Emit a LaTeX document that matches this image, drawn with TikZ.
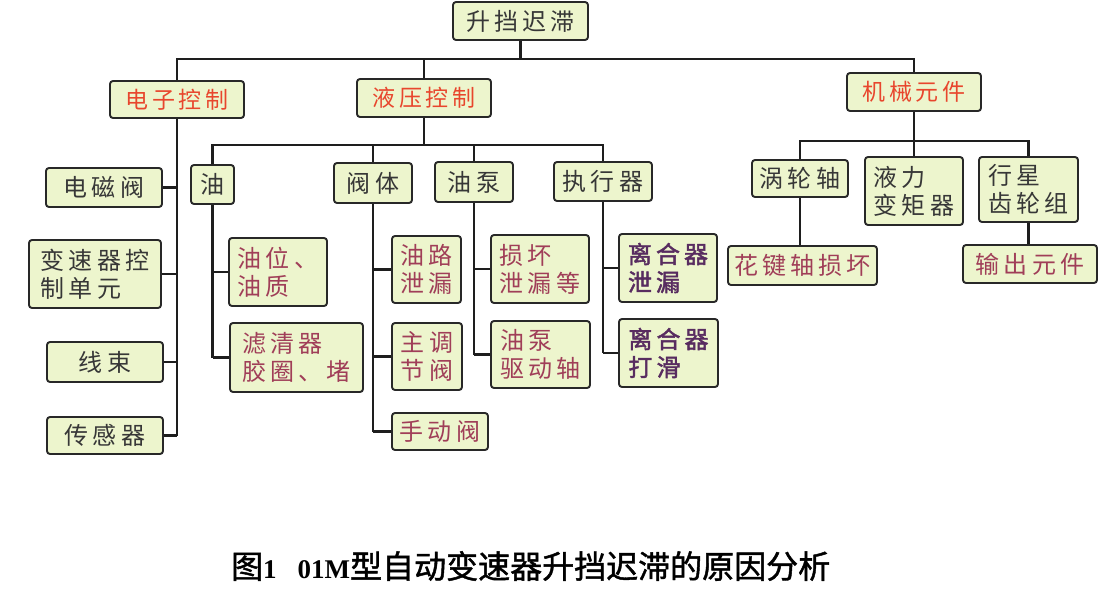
\documentclass[tikz,border=0pt]{standalone}
\usepackage{fontspec}
\newfontfamily\cjk[LetterSpace=17]{Noto Sans CJK SC}
\newfontfamily\cjkbold[LetterSpace=17,FakeBold=1.8]{Noto Sans CJK SC}
\newfontfamily\cjkcap[FakeBold=1.4]{Noto Sans CJK SC}
\newfontfamily\tnrbold{Liberation Serif Bold}
\definecolor{boxfill}{RGB}{237,245,205}
\definecolor{boxline}{RGB}{40,40,40}
\definecolor{wireblack}{RGB}{30,30,30}
\definecolor{darktext}{RGB}{55,55,55}
\definecolor{redtext}{RGB}{232,70,45}
\definecolor{mauvetext}{RGB}{160,62,88}
\definecolor{purpletext}{RGB}{88,44,96}
\tikzset{
  box/.style={draw=boxline, line width=1.9pt, rounded corners=3pt, fill=boxfill,
    inner sep=0pt, align=left, text=darktext,
    font=\cjk\fontsize{24}{28}\selectfont},
  lvlone/.style={box, text=redtext, font=\cjk\fontsize{23}{28}\selectfont},
  lvlthree/.style={box, text=mauvetext},
  lvlclutch/.style={box, text=purpletext, font=\cjkbold\fontsize{24}{28}\selectfont},
  wire/.style={line width=2.2pt, draw=wireblack},
}
\begin{document}
\begin{tikzpicture}[x=1pt,y=-1pt]
\fill[white] (0,0) rectangle (1111,603);
\useasboundingbox (0,0) rectangle (1111,603);

% root and level one
\node[box, minimum width=135pt, minimum height=38pt] (root) at (520.5,21) {升挡迟滞};
\node[lvlone, minimum width=134pt, minimum height=37pt] (elec) at (177,99.5) {电子控制};
\node[lvlone, minimum width=134pt, minimum height=38pt] (hyd) at (424,98) {液压控制};
\node[lvlone, minimum width=134pt, minimum height=38pt] (mech) at (914,92) {机械元件};

% electronic branch
\node[box, minimum width=116pt, minimum height=39pt] (sol) at (104,187.5) {电磁阀};
\node[box, minimum width=132pt, minimum height=68pt] (tcu) at (95,274) {变速器控\\制单元};
\node[box, minimum width=116pt, minimum height=40pt] (harn) at (105,362) {线束};
\node[box, minimum width=116pt, minimum height=37pt] (sens) at (105,435.5) {传感器};

% hydraulic level two
\node[box, minimum width=43pt, minimum height=39pt] (oil) at (212.5,184.5) {油};
\node[box, minimum width=78pt, minimum height=40pt] (valve) at (373,183) {阀体};
\node[box, minimum width=78pt, minimum height=40pt] (pump) at (474,182) {油泵};
\node[box, minimum width=98pt, minimum height=39pt] (act) at (603,181.5) {执行器};

% hydraulic level three
\node[lvlthree, minimum width=98pt, minimum height=68pt] (oilq) at (278,272) {油位、\\油质};
\node[lvlthree, minimum width=133pt, minimum height=69pt] (filt) at (296.5,357.5) {滤清器\\胶圈、堵};
\node[lvlthree, minimum width=69pt, minimum height=67pt] (leak) at (426.5,269.5) {油路\\泄漏};
\node[lvlthree, minimum width=70pt, minimum height=67pt] (mainv) at (427,356.5) {主调\\节阀};
\node[lvlthree, minimum width=96pt, minimum height=37pt] (manv) at (440,431.5) {手动阀};
\node[lvlthree, minimum width=98pt, minimum height=68pt] (dmg) at (540,269) {损坏\\泄漏等};
\node[lvlthree, minimum width=99pt, minimum height=67pt] (shaft) at (540.5,354.5) {油泵\\驱动轴};
\node[lvlclutch, minimum width=98pt, minimum height=68pt] (cleak) at (668,268) {离合器\\泄漏};
\node[lvlclutch, minimum width=99pt, minimum height=68pt] (cslip) at (668.5,353) {离合器\\打滑};

% mechanical branch
\node[box, minimum width=96pt, minimum height=37pt] (turb) at (800,178.5) {涡轮轴};
\node[box, minimum width=98pt, minimum height=68pt] (conv) at (914,191) {液力\\变矩器};
\node[box, minimum width=99pt, minimum height=65pt] (plan) at (1028.5,189.5) {行星\\齿轮组};
\node[lvlthree, minimum width=149pt, minimum height=39pt] (spline) at (802.5,265.5) {花键轴损坏};
\node[lvlthree, minimum width=134pt, minimum height=38pt] (outp) at (1030,264) {输出元件};

% buses
\coordinate (topbus) at (0,59);
\coordinate (hbus) at (0,145);
\coordinate (mbus) at (0,141);

\draw[wire] (elec.north) -- (elec.north |- topbus) -- (mech.north |- topbus) -- (mech.north);
\draw[wire] (root.south) -- (root.south |- topbus);
\draw[wire] (hyd.north) -- (hyd.north |- topbus);

\draw[wire] (oil.north) -- (oil.north |- hbus) -- (act.north |- hbus) -- (act.north);
\draw[wire] (hyd.south) -- (hyd.south |- hbus);
\draw[wire] (valve.north) -- (valve.north |- hbus);
\draw[wire] (pump.north) -- (pump.north |- hbus);

\draw[wire] (turb.north) -- (turb.north |- mbus) -- (plan.north |- mbus) -- (plan.north);
\draw[wire] (mech.south) -- (mech.south |- mbus);
\draw[wire] (conv.north) -- (conv.north |- mbus);

% electronic trunk
\draw[wire] (elec.south) -- (elec.south |- sens.east);
\foreach \c in {sol,tcu,harn,sens} \draw[wire] (\c.east) -- (\c.east -| elec.south);

% oil trunk
\draw[wire] (oil.south) -- (oil.south |- filt.west);
\foreach \c in {oilq,filt} \draw[wire] (\c.west) -- (\c.west -| oil.south);

% valve body trunk
\draw[wire] (valve.south) -- (valve.south |- manv.west);
\foreach \c in {leak,mainv,manv} \draw[wire] (\c.west) -- (\c.west -| valve.south);

% pump trunk
\draw[wire] (pump.south) -- (pump.south |- shaft.west);
\foreach \c in {dmg,shaft} \draw[wire] (\c.west) -- (\c.west -| pump.south);

% actuator trunk
\draw[wire] (act.south) -- (act.south |- cslip.west);
\foreach \c in {cleak,cslip} \draw[wire] (\c.west) -- (\c.west -| act.south);

% mechanical children
\draw[wire] (turb.south) -- (turb.south |- spline.north);
\draw[wire] (plan.south) -- (plan.south |- outp.north);

% caption
\node[anchor=west, inner sep=0pt, text=black] (cap) at (231,566)
  {\cjkcap\fontsize{32}{34}\selectfont 图\tnrbold\fontsize{27}{34}\selectfont 1\hspace{21pt}01M\cjkcap\fontsize{32}{34}\selectfont 型自动变速器升挡迟滞的原因分析};
\end{tikzpicture}
\end{document}
